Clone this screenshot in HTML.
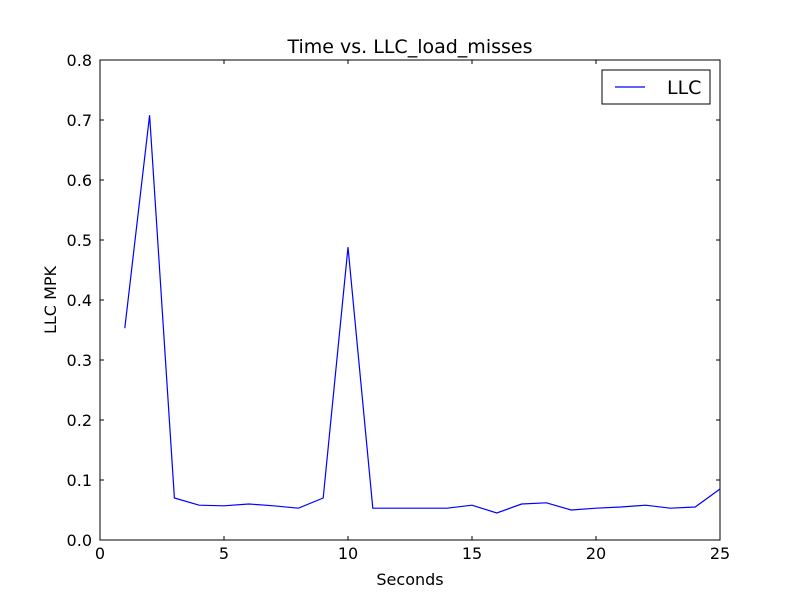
<!DOCTYPE html>
<html><head><meta charset="utf-8"><style>
body{margin:0;background:#fff;}
svg{display:block;font-family:"DejaVu Sans","Liberation Sans",sans-serif;}
</style></head><body>
<svg id="chart" width="800" height="600"></svg>
<script>
const xValues=[1,2,3,4,5,6,7,8,9,10,11,12,13,14,15,16,17,18,19,20,21,22,23,24,25];
const llcValues=[0.353,0.708,0.070,0.058,0.057,0.060,0.057,0.053,0.070,0.488,0.053,0.053,0.053,0.053,0.058,0.045,0.060,0.062,0.050,0.053,0.055,0.058,0.053,0.055,0.085];
const xTicks=[0,5,10,15,20,25];
const yTicks=[0.0,0.1,0.2,0.3,0.4,0.5,0.6,0.7,0.8];
const L=100,R=720,T=60,B=540;
const xs=v=>L+(v-0)/25*(R-L);
const ys=v=>B-(v-0)/0.8*(B-T);
const svg=document.getElementById('chart');
const NS='http://www.w3.org/2000/svg';
function mk(tag,attrs,parent){const e=document.createElementNS(NS,tag);for(const k in attrs)e.setAttribute(k,attrs[k]);(parent||svg).appendChild(e);return e;}
const bg=mk('rect',{x:0,y:0,width:800,height:600,fill:'#fff'});


const plot=mk('rect',{x:L,y:T,width:R-L,height:B-T,fill:'#fff',stroke:'#000','stroke-width':1});


xTicks.forEach(t=>{const x=xs(t);
 mk('line',{x1:x,y1:B,x2:x,y2:B-4,stroke:'#000'});mk('line',{x1:x,y1:T,x2:x,y2:T+4,stroke:'#000'});
 const tx=mk('text',{x:x,y:B+19,'text-anchor':'middle','font-size':16});tx.textContent=t;
 
 });
yTicks.forEach(t=>{const y=ys(t);
 mk('line',{x1:L,y1:y,x2:L+4,y2:y,stroke:'#000'});mk('line',{x1:R,y1:y,x2:R-4,y2:y,stroke:'#000'});
 const tx=mk('text',{x:L-8,y:y+6,'text-anchor':'end','font-size':16});tx.textContent=t.toFixed(1);
 
 });
const pts=xValues.map((v,i)=>xs(v)+','+ys(llcValues[i])).join(' ');
const line=mk('polyline',{points:pts,fill:'none',stroke:'#0000ff','stroke-width':1.2});


const title=mk('text',{x:410,y:53,'text-anchor':'middle','font-size':19});title.textContent='Time vs. LLC_load_misses';


const xl=mk('text',{x:410,y:585,'text-anchor':'middle','font-size':16});xl.textContent='Seconds';


const yl=mk('text',{x:56,y:300,'text-anchor':'middle','font-size':16,transform:'rotate(-90 56 300)'});yl.textContent='LLC MPK';


const lg=mk('g',{});


mk('rect',{x:602,y:70,width:108,height:34,fill:'#fff',stroke:'#000'},lg);
mk('line',{x1:615,y1:87,x2:645,y2:87,stroke:'#0000ff','stroke-width':1.2},lg);
const lt=mk('text',{x:667,y:94,'font-size':19},lg);lt.textContent='LLC';


</script>
</body></html>
